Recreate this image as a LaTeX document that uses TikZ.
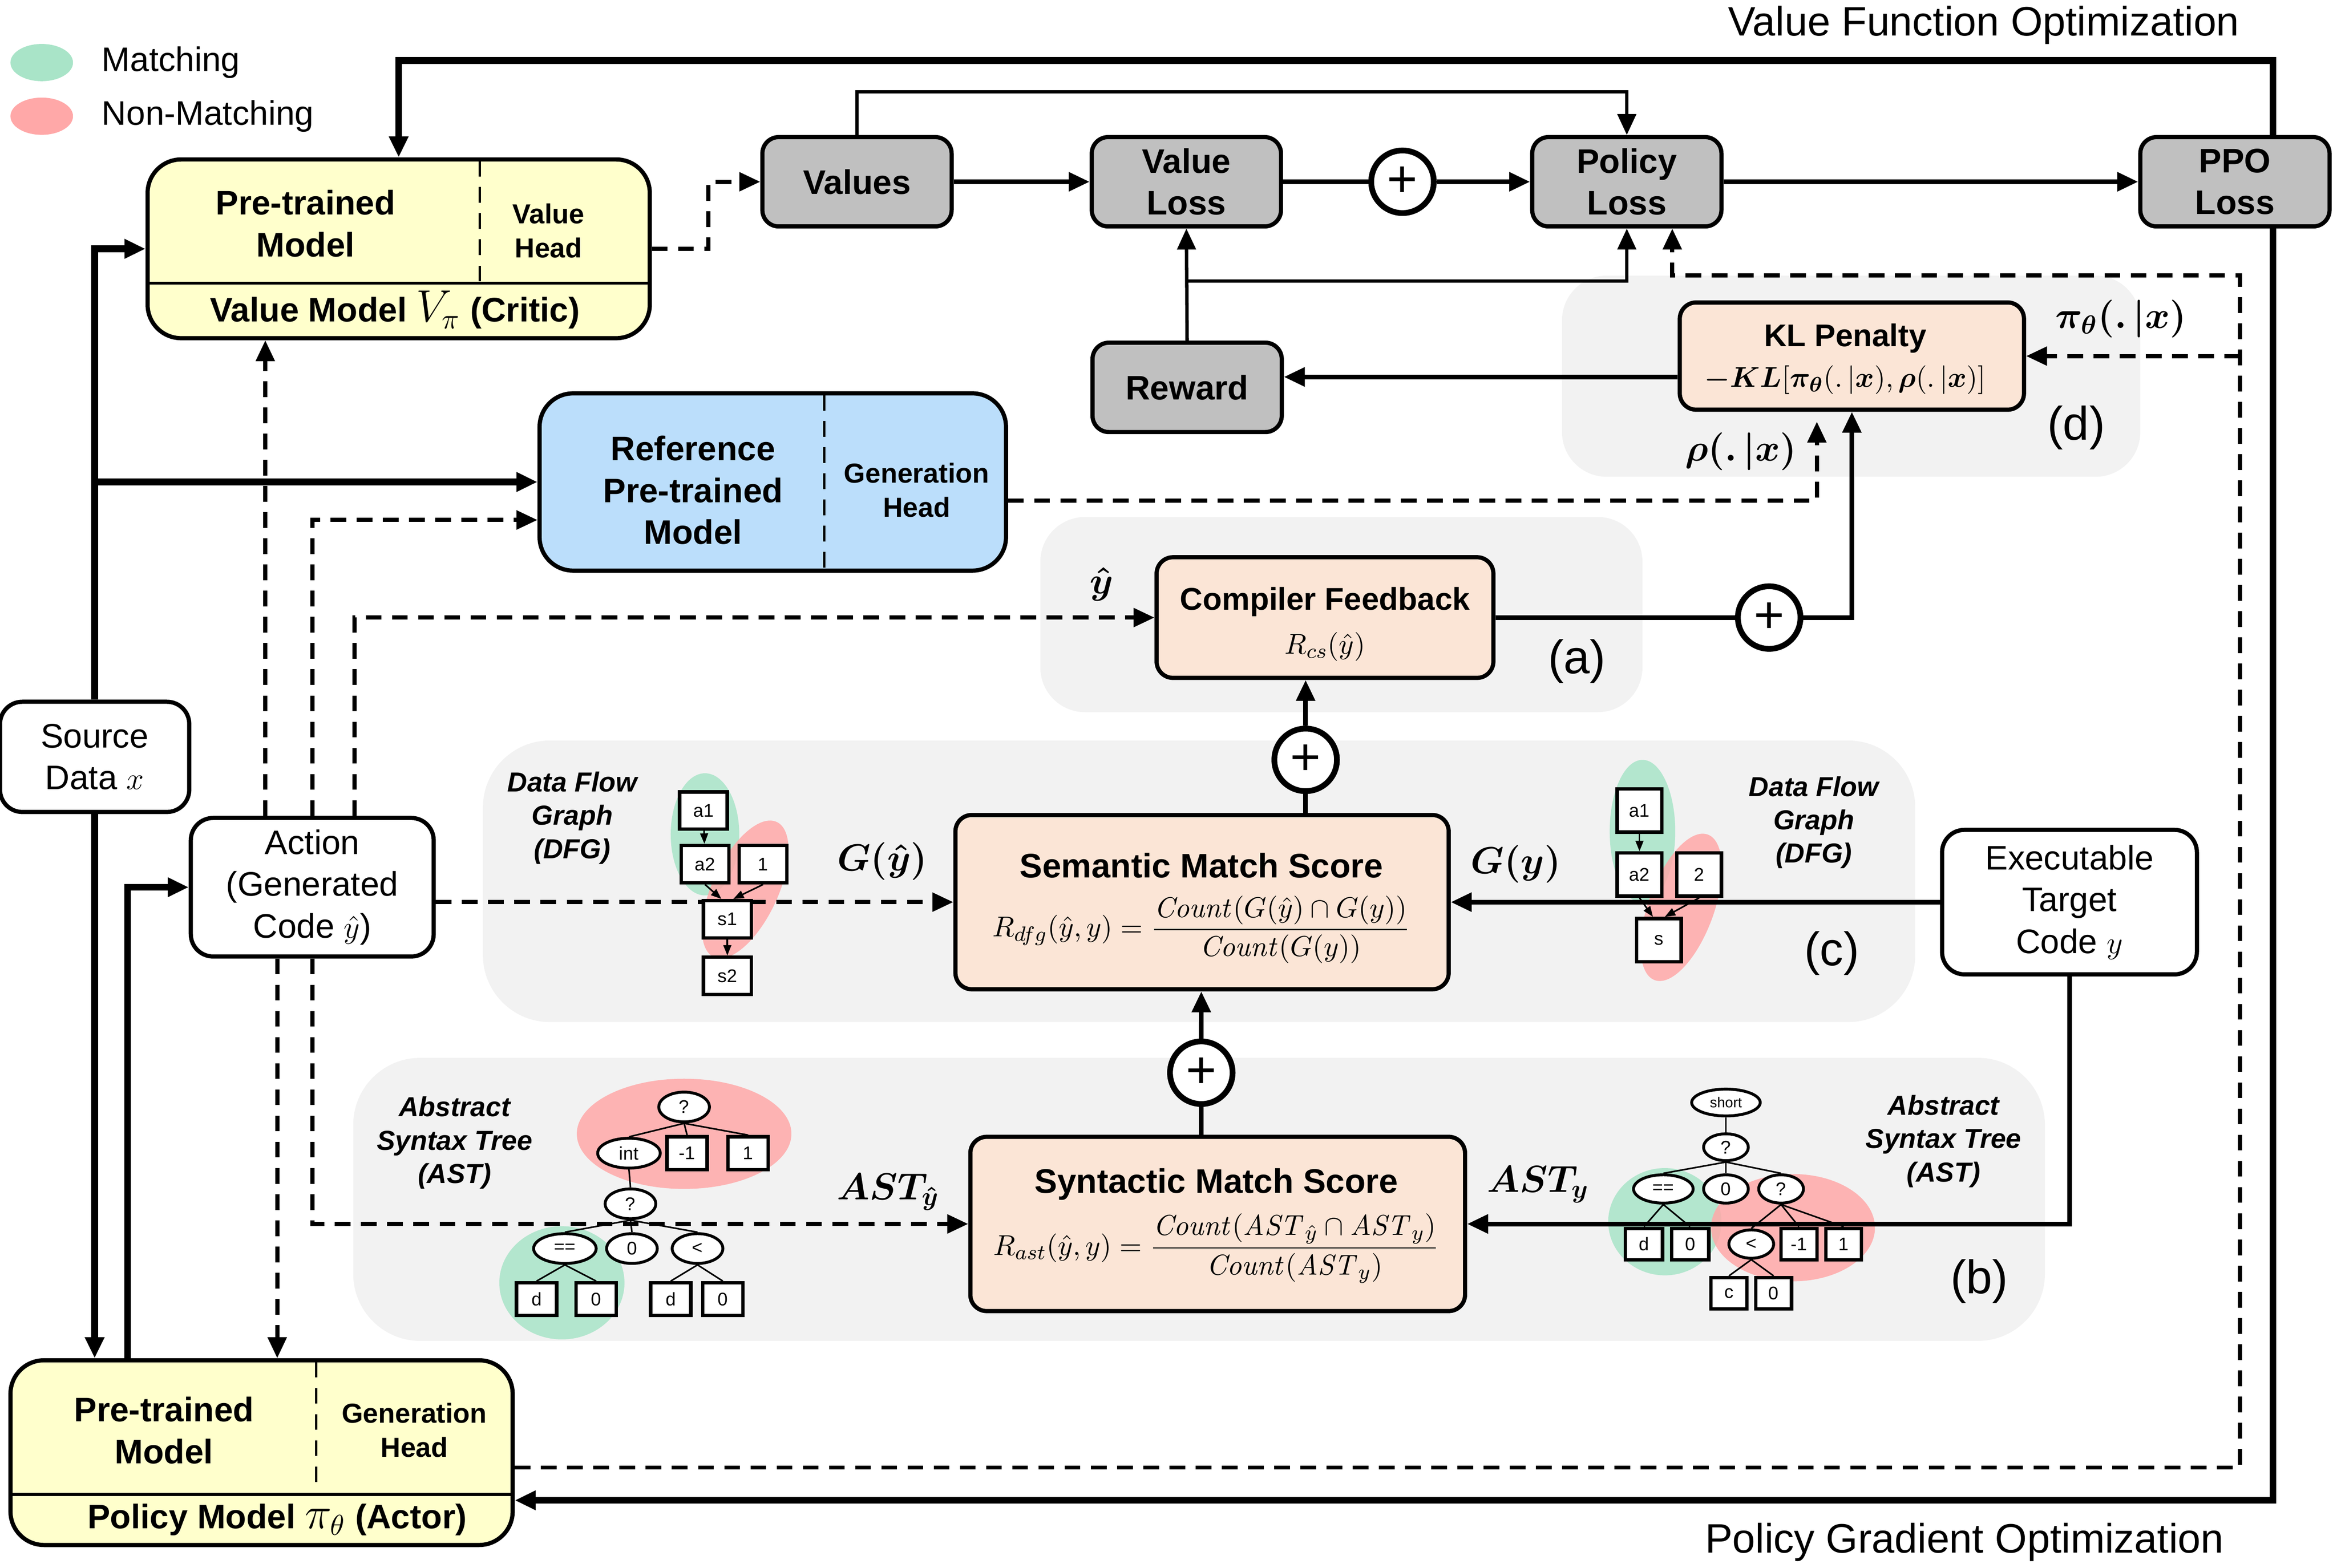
\documentclass[tikz,border=0pt]{standalone}
\usepackage{amsmath}
\usepackage{amssymb}
\usepackage{bm}
\usepackage[no-math]{fontspec}
\setmainfont{Liberation Sans}
\usetikzlibrary{arrows.meta,calc,positioning,shapes.geometric}
\definecolor{critic}{RGB}{255,255,204}
\definecolor{refblue}{RGB}{187,222,251}
\definecolor{lossgray}{RGB}{192,192,192}
\definecolor{peach}{RGB}{251,229,214}
\definecolor{panel}{RGB}{242,242,242}
\definecolor{matchgreen}{RGB}{169,228,200}
\definecolor{nonmatchred}{RGB}{255,168,168}
\pgfdeclarelayer{panels}
\pgfdeclarelayer{blobs}
\pgfdeclarelayer{wires}
\pgfsetlayers{panels,blobs,wires,main}
\newcommand{\modelsym}[1]{{\fontsize{16}{16}\selectfont$#1$}}
\tikzset{
flow/.style={x=0.02cm,y=-0.02cm,>={Triangle[length=8pt,width=7pt]}},
box/.style={draw,line width=1.6pt,rounded corners=0.22cm,inner sep=0pt,align=center},
lossbox/.style={box,fill=lossgray,minimum width=2.54cm,minimum height=1.2cm,
font=\fontsize{13}{16}\selectfont\bfseries},
modelbox/.style={box,fill=#1,rounded corners=0.45cm},
scorebox/.style={box,fill=peach},
plainbox/.style={box,rounded corners=0.3cm,font=\fontsize{13}{16}\selectfont},
plus/.style={circle,draw,line width=2.2pt,fill=white,minimum size=0.84cm,inner sep=0pt,
font=\fontsize{20}{20}\selectfont},
boldtext/.style={align=center,inner sep=0pt,font=\fontsize{13}{16}\selectfont\bfseries},
headtext/.style={align=center,inner sep=0pt,font=\fontsize{10.5}{13}\selectfont\bfseries},
scoretitle/.style={inner sep=0pt,font=\fontsize{12}{14}\selectfont\bfseries},
formula/.style={inner sep=0pt,font=\fontsize{11}{13}\selectfont},
mathlabel/.style={inner sep=0pt,font=\fontsize{14.5}{17}\selectfont},
partlabel/.style={inner sep=0pt,font=\fontsize{18}{20}\selectfont},
titletext/.style={inner sep=0pt,font=\fontsize{15.7}{18}\selectfont},
legendtext/.style={inner sep=0pt,anchor=west,font=\fontsize{13}{16}\selectfont},
graphlabel/.style={align=center,inner sep=0pt,font=\fontsize{10.5}{12.75}\selectfont\bfseries\itshape},
heavy/.style={line width=2.6pt},
wire/.style={line width=1.8pt},
thinwire/.style={line width=1.3pt},
dashwire/.style={line width=1.6pt,dash pattern=on 6pt off 4pt},
divider/.style={line width=0.9pt,dash pattern=on 6pt off 4pt},
dfgbox/.style={draw,fill=white,line width=1.3pt,minimum width=0.64cm,minimum height=0.5cm,
inner sep=0pt,font=\fontsize{7}{7}\selectfont},
astbox/.style={dfgbox,minimum width=0.54cm,minimum height=0.44cm},
astnode/.style={ellipse,draw,fill=white,line width=1.1pt,minimum width=0.68cm,
minimum height=0.4cm,inner sep=0pt,font=\fontsize{7}{7}\selectfont},
treeedge/.style={line width=0.6pt},
treearrow/.style={line width=0.6pt,-{Triangle[length=4pt,width=3pt]}},
matchblob/.style={fill=matchgreen,fill opacity=0.85},
missblob/.style={fill=nonmatchred,fill opacity=0.85},
legenddot/.style={ellipse,minimum width=0.84cm,minimum height=0.5cm,inner sep=0pt},
}
\begin{document}
\begin{tikzpicture}[flow]
\useasboundingbox (0,0) rectangle (1568,1052.3);

% legend and titles
\node[legenddot,fill=matchgreen] (dotmatch) at (28,42) {};
\node[legendtext] (txtmatch) at (68,42) {Matching};
\node[legenddot,fill=nonmatchred] (dotmiss) at (28,78) {};
\node[legendtext] (txtmiss) at (68,78) {Non-Matching};
\node[titletext] (vfo) at (1331,17) {Value Function Optimization};
\node[titletext] (pgo) at (1318,1035) {Policy Gradient Optimization};

% losses
\node[lossbox] (val) at (575,122) {Values};
\node[lossbox] (vl) at (796,122) {Value\\Loss};
\node[plus] (p1) at (941,122) {+};
\node[lossbox] (pl) at (1091.5,122) {Policy\\Loss};
\node[lossbox] (ppo) at (1499.5,122) {PPO\\Loss};
\node[lossbox] (rew) at (796.5,260) {Reward};

% models
\node[modelbox=critic,minimum width=6.74cm,minimum height=2.4cm] (vm) at (267.5,167) {};
\node[boldtext] (vmbase) at (205,150) {Pre-trained\\Model};
\node[headtext] (vmhead) at (368,155) {Value\\Head};
\node[boldtext] (vmname) at (265,208) {Value Model \modelsym{V_\pi} (Critic)};
\draw[line width=1.2pt] (99,190) -- (436,190);
\draw[divider] (322,108) -- (322,190);

\node[modelbox=refblue,minimum width=6.26cm,minimum height=2.38cm] (ref) at (518.5,323.5) {};
\node[boldtext] (refbase) at (465,329) {Reference\\Pre-trained\\Model};
\node[headtext] (refhead) at (615,329) {Generation\\Head};
\draw[divider] (553,265) -- (553,382);

\node[modelbox=critic,minimum width=6.74cm,minimum height=2.48cm] (pm) at (175.5,975) {};
\node[boldtext] (pmbase) at (110,960) {Pre-trained\\Model};
\node[headtext] (pmhead) at (278,960) {Generation\\Head};
\node[boldtext] (pmname) at (186,1020) {Policy Model \modelsym{\pi_\theta} (Actor)};
\draw[line width=1.2pt] (7,1003) -- (344,1003);
\draw[divider] (212,914) -- (212,1003);

\node[plainbox,minimum width=2.54cm,minimum height=1.48cm] (src) at (63.5,508) {Source\\Data $x$};
\node[plainbox,minimum width=3.26cm,minimum height=1.86cm] (act) at (209.5,595.5)
{Action\\(Generated\\Code $\hat{y}$)};
\node[plainbox,minimum width=3.42cm,minimum height=1.94cm] (tgt) at (1388.5,605.5)
{Executable\\Target\\Code $y$};

% rewards
\node[scorebox,minimum width=4.62cm,minimum height=1.44cm] (kl) at (1242.5,239) {};
\node[scoretitle] (kltitle) at (1238,227) {KL Penalty};
\node[formula] (klf) at (1238,255) {$\bm{-KL}[\bm{\pi_\theta}(.\,|\bm{x}),\bm{\rho}(.\,|\bm{x})]$};

\node[scorebox,minimum width=4.52cm,minimum height=1.62cm] (cf) at (889,414.5) {};
\node[scoretitle] (cftitle) at (889,404) {Compiler Feedback};
\node[formula] (cff) at (889,434) {$R_{cs}(\hat{y})$};

\node[scorebox,minimum width=6.62cm,minimum height=2.34cm] (sem) at (806.5,605.5) {};
\node[boldtext] (semtitle) at (806,581) {Semantic Match Score};
\node[formula] (semf) at (806,624)
{$R_{dfg}(\hat{y},y)=\dfrac{\mathit{Count}(G(\hat{y})\cap G(y))}{\mathit{Count}(G(y))}$};

\node[scorebox,minimum width=6.64cm,minimum height=2.34cm] (syn) at (817,821.5) {};
\node[boldtext] (syntitle) at (816,795) {Syntactic Match Score};
\node[formula] (synf) at (816,838)
{$R_{ast}(\hat{y},y)=\dfrac{\mathit{Count}(\mathit{AST}_{\hat{y}}\cap\mathit{AST}_{y})}{\mathit{Count}(\mathit{AST}_{y})}$};

\node[plus] (p2) at (1187,414.5) {+};
\node[plus] (p3) at (876,510) {+};
\node[plus] (p4) at (806,720) {+};

% labels
\node[mathlabel] (yhat) at (739,392) {$\bm{\hat{y}}$};
\node[mathlabel] (gyhat) at (592,578) {$\bm{G(\hat{y})}$};
\node[mathlabel] (gy) at (1017,580) {$\bm{G(y)}$};
\node[mathlabel] (asthat) at (596,800) {$\bm{AST_{\hat{y}}}$};
\node[mathlabel] (asty) at (1032,795) {$\bm{AST_{y}}$};
\node[mathlabel] (rholab) at (1168,303) {$\bm{\rho(.\,|x)}$};
\node[mathlabel] (pilab) at (1423,214) {$\bm{\pi_\theta(.\,|x)}$};
\node[partlabel] (parta) at (1058,444) {(a)};
\node[partlabel] (partb) at (1328,860) {(b)};
\node[partlabel] (partc) at (1229,640) {(c)};
\node[partlabel] (partd) at (1393,287) {(d)};
\node[graphlabel] (dfgl) at (384,549) {Data Flow\\Graph\\(DFG)};
\node[graphlabel] (dfgr) at (1217,552) {Data Flow\\Graph\\(DFG)};
\node[graphlabel] (astl) at (305,767) {Abstract\\Syntax Tree\\(AST)};
\node[graphlabel] (astr) at (1304,766) {Abstract\\Syntax Tree\\(AST)};

% data flow graphs
\node[dfgbox] (la1) at (472,544) {a1};
\node[dfgbox] (la2) at (473,580) {a2};
\node[dfgbox] (lc1) at (512,580) {1};
\node[dfgbox] (ls1) at (488,617) {s1};
\node[dfgbox] (ls2) at (488,655) {s2};
\node[dfgbox,minimum width=0.6cm,minimum height=0.58cm] (ra1) at (1100,544) {a1};
\node[dfgbox,minimum width=0.6cm,minimum height=0.58cm] (ra2) at (1100,587) {a2};
\node[dfgbox,minimum width=0.6cm,minimum height=0.58cm] (rc2) at (1140,587) {2};
\node[dfgbox,minimum width=0.6cm,minimum height=0.58cm] (rs) at (1113,631) {s};

% syntax trees
\node[astnode] (lq1) at (459,743) {?};
\node[astnode,minimum width=0.84cm] (lint) at (422,774) {int};
\node[astbox] (lm1) at (461,774) {-1};
\node[astbox] (lone) at (502,774) {1};
\node[astnode] (lq2) at (423,808) {?};
\node[astnode,minimum width=0.84cm] (leq) at (379,838) {==};
\node[astnode] (lzero) at (424,838) {0};
\node[astnode] (llt) at (468,838) {<};
\node[astbox] (ld1) at (360,872) {d};
\node[astbox] (l01) at (400,872) {0};
\node[astbox] (ld2) at (450,872) {d};
\node[astbox] (l02) at (485,872) {0};

\node[astnode,minimum width=0.92cm,minimum height=0.36cm,font=\fontsize{5.5}{6}\selectfont] (rshort) at (1158,740) {short};
\node[astnode,minimum width=0.6cm,minimum height=0.36cm] (rq1) at (1158,770) {?};
\node[astnode,minimum width=0.8cm,minimum height=0.38cm] (req) at (1116,798) {==};
\node[astnode,minimum width=0.6cm,minimum height=0.38cm] (rzero) at (1158,798) {0};
\node[astnode,minimum width=0.6cm,minimum height=0.38cm] (rq2) at (1195,798) {?};
\node[astbox,minimum width=0.5cm,minimum height=0.42cm] (rd) at (1103,835) {d};
\node[astbox,minimum width=0.5cm,minimum height=0.42cm] (r0a) at (1134,835) {0};
\node[astnode,minimum width=0.6cm,minimum height=0.38cm] (rlt) at (1175,835) {<};
\node[astbox,minimum width=0.48cm,minimum height=0.42cm] (rm1) at (1207,835) {-1};
\node[astbox,minimum width=0.48cm,minimum height=0.42cm] (rone) at (1237,835) {1};
\node[astbox,minimum width=0.48cm,minimum height=0.42cm] (rc) at (1160,868) {c};
\node[astbox,minimum width=0.48cm,minimum height=0.42cm] (r0b) at (1190,868) {0};

\coordinate (pout) at (1503,185);
\coordinate (rhoin) at (1219,283);
\coordinate (actv) at ($(act.north)+(-31.5,0)$);
\coordinate (actc) at ($(act.north)+(28.5,0)$);
\coordinate (actp) at ($(act.south)+(-23.5,0)$);

\begin{pgfonlayer}{panels}
\fill[panel,rounded corners=0.6cm] (1048,185) rectangle (1436,320);
\fill[panel,rounded corners=0.6cm] (698,347) rectangle (1102,478);
\fill[panel,rounded corners=0.9cm] (324,497) rectangle (1285,686);
\fill[panel,rounded corners=0.9cm] (237,710) rectangle (1372,900);
\end{pgfonlayer}

\begin{pgfonlayer}{blobs}
\fill[matchblob] (473,560) circle [x radius=0.46cm, y radius=0.82cm];
\fill[missblob] (500,597) circle [x radius=0.44cm, y radius=1cm, rotate=-25];
\fill[matchblob] (1102,558) circle [x radius=0.44cm, y radius=0.96cm];
\fill[missblob] (1128,609) circle [x radius=0.44cm, y radius=1.04cm, rotate=-20];
\fill[missblob] (459,761) circle [x radius=1.44cm, y radius=0.74cm];
\fill[matchblob] (377,861) circle [x radius=0.84cm, y radius=0.76cm];
\fill[matchblob] (1117,820) circle [x radius=0.76cm, y radius=0.72cm];
\fill[missblob] (1203,824) circle [x radius=1.1cm, y radius=0.72cm];
\end{pgfonlayer}

\begin{pgfonlayer}{wires}
% optimization loops
\draw[heavy,->] ([xshift=0.51cm]ppo.north) -- ++(0,-50) -| (vm.north);
\draw[heavy,->] ([xshift=0.51cm]ppo.south) |- ([yshift=-0.64cm]pm.east);
\draw[heavy,->] (src.north) |- (vm.west);
\draw[heavy,->] (src.north |- ref.west) -- (ref.west);
\draw[heavy,->] (src.south) -- (src.south |- pm.north);
\draw[heavy,->] ($(pm.north west)+(80,0)$) |- (act.west);
% losses
\draw[dashwire,->] (vm.east) -- ++(38,0) |- (val.west);
\draw[wire,->] (val.east) -- (vl.west);
\draw[wire] (vl.east) -- (p1);
\draw[wire,->] (p1) -- (pl.west);
\draw[wire,->] (pl.east) -- (ppo.west);
\draw[thinwire,->] (val.north) -- ++(0,-29) -| (pl.north);
\draw[thinwire,->] (rew.north) -- (vl.south);
\draw[thinwire,->] ($(rew.north)+(0,-40)$) -| (pl.south);
\draw[wire,->] ([yshift=-0.28cm]kl.west) -- ([yshift=-0.28cm]kl.west -| rew.east);
\draw[dashwire,->] ([yshift=-0.2cm]pm.east) -| (pout) -| ($(pl.south)+(30.5,0)$);
\draw[dashwire,->] (pout |- kl.east) -- (kl.east);
\draw[dashwire,->] ([yshift=-0.25cm]ref.east) -| (rhoin);
% generated code
\draw[dashwire,->] (actv) -- (actv |- vm.south);
\draw[dashwire,->] (act.north) |- ($(ref.west)+(0,25.5)$);
\draw[dashwire,->] (actc) |- (cf.west);
\draw[dashwire,->] (act.east |- sem.west) -- (sem.west);
\draw[dashwire,->] (act.south) |- (syn.west);
\draw[dashwire,->] (actp) -- (actp |- pm.north);
\draw[wire,->] (tgt.west) -- (sem.east);
\draw[wire,->] (tgt.south) |- (syn.east);
% scores
\draw[wire] (p3 |- sem.north) -- (p3);
\draw[wire,->] (p3) -- (p3 |- cf.south);
\draw[wire] (p4 |- syn.north) -- (p4);
\draw[wire,->] (p4) -- (p4 |- sem.south);
\draw[wire] (cf.east) -- (p2);
\draw[wire,->] (p2) -| (kl.south);
% trees
\draw[treearrow] (la1) -- (la2);
\draw[treearrow] (la2.south) -- ([xshift=-0.08cm]ls1.north);
\draw[treearrow] (lc1.south) -- ([xshift=0.08cm]ls1.north);
\draw[treearrow] (ls1) -- (ls2);
\draw[treearrow] (ra1) -- (ra2);
\draw[treearrow] (ra2.south) -- ([xshift=-0.08cm]rs.north);
\draw[treearrow] (rc2.south) -- ([xshift=0.08cm]rs.north);
\foreach \a/\b in {lq1/lint,lq1/lm1,lq1/lone,lint/lq2,lq2/leq,lq2/lzero,lq2/llt,
leq/ld1,leq/l01,llt/ld2,llt/l02,rshort/rq1,rq1/req,rq1/rzero,rq1/rq2,req/rd,req/r0a,
rq2/rlt,rq2/rm1,rq2/rone,rlt/rc,rlt/r0b}
\draw[treeedge] (\a.south) -- (\b.north);
\end{pgfonlayer}
\end{tikzpicture}
\end{document}
